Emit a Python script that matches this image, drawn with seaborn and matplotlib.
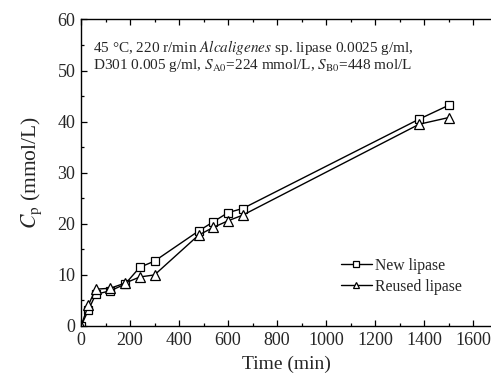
import matplotlib
matplotlib.use("Agg")
import matplotlib.pyplot as plt
import seaborn as sns
import pandas as pd
from matplotlib.ticker import MultipleLocator

time_new = [0, 30, 60, 120, 180, 240, 300, 480, 540, 600, 660, 1380, 1500]
cp_new = [0, 3.1, 6.2, 6.9, 8.2, 11.5, 12.7, 18.6, 20.4, 22.2, 23.0, 40.5, 43.2]
time_reused = [0, 30, 60, 120, 180, 240, 300, 480, 540, 600, 660, 1380, 1500]
cp_reused = [0, 4.1, 7.2, 7.4, 8.4, 9.6, 10.0, 17.8, 19.3, 20.6, 21.7, 39.5, 40.8]
series_names = ["New lipase", "Reused lipase"]

sns.set_style("ticks")
plt.rcParams["font.family"] = ["Liberation Serif", "DejaVu Serif"]
plt.rcParams["mathtext.fontset"] = "stix"

fig = plt.figure(figsize=(4.91, 3.82), dpi=100)
ax = fig.add_axes([81 / 491, 1 - 326 / 382, 1 - 81 / 491 + 0.002, (326 - 19.5) / 382])

df_new = pd.DataFrame({"t": time_new, "c": cp_new})
df_re = pd.DataFrame({"t": time_reused, "c": cp_reused})

sns.lineplot(data=df_new, x="t", y="c", ax=ax, color="black", lw=1.0,
             marker="s", markersize=6, markerfacecolor="white",
             markeredgecolor="black", markeredgewidth=0.9, label=series_names[0])
sns.lineplot(data=df_re, x="t", y="c", ax=ax, color="black", lw=1.0,
             marker="^", markersize=7, markerfacecolor="white",
             markeredgecolor="black", markeredgewidth=0.9, label=series_names[1])

ax.set_xlim(0, 1677)
ax.set_ylim(0, 60)
ax.xaxis.set_major_locator(MultipleLocator(200))
ax.xaxis.set_minor_locator(MultipleLocator(100))
ax.yaxis.set_major_locator(MultipleLocator(10))
ax.yaxis.set_minor_locator(MultipleLocator(5))
ax.tick_params(which="both", direction="in", labelsize=13, color="black", width=0.9)
ax.tick_params(which="major", length=4, pad=4)
ax.tick_params(which="minor", length=2.5)
ax.tick_params(axis="x", which="both", top=True, labeltop=False)
for s in ["left", "bottom", "top"]:
    ax.spines[s].set_linewidth(1.0)
    ax.spines[s].set_color("black")
ax.spines["right"].set_visible(False)

ax.set_xlabel("Time (min)", fontsize=14, labelpad=5)
ax.set_ylabel(r"$C_{\mathrm{p}}$ (mmol/L)", fontsize=15.5, labelpad=10)

ax.text(0.029, 0.908,
        r"45 °C, 220 r/min $\mathit{Alcaligenes}$ sp. lipase 0.0025 g/ml,",
        transform=ax.transAxes, fontsize=11, va="center", ha="left")
ax.text(0.029, 0.850,
        r"D301 0.005 g/ml, $S_{\mathrm{A0}}$=224 mmol/L, $S_{\mathrm{B0}}$=448 mol/L",
        transform=ax.transAxes, fontsize=11, va="center", ha="left")

leg = ax.legend(loc="upper left", bbox_to_anchor=(0.632, 0.222), frameon=False,
                fontsize=11.3, handlelength=2.0, handletextpad=0.2,
                labelspacing=0.3, borderaxespad=0, borderpad=0)
for h in leg.legend_handles:
    h.set_markersize(4)

fig.savefig("out.png", dpi=100)
